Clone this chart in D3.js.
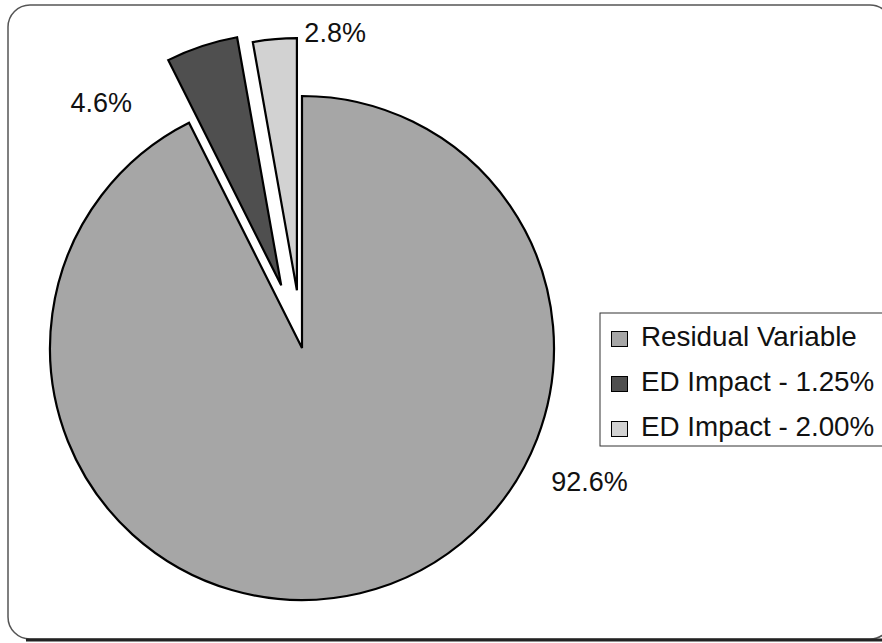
<!DOCTYPE html>
<html>
<head>
<meta charset="utf-8">
<script src="https://cdn.jsdelivr.net/npm/d3@7/dist/d3.min.js"></script>
<style>
  html, body { margin: 0; padding: 0; background: #fff; }
  svg { display: block; }
  text { font-family: "Liberation Sans", Arial, sans-serif; fill: #111; }
</style>
</head>
<body>
<svg id="chart" width="882" height="643"></svg>
<script>
// Share of variance by component
const categories = ["Residual Variable", "ED Impact - 1.25%", "ED Impact - 2.00%"];
const values = [92.6, 4.6, 2.8];
const valueLabels = ["92.6%", "4.6%", "2.8%"];
const fills = ["#a6a6a6", "#4f4f4f", "#d2d2d2"];

const svg = d3.select("#chart");

// Rounded chart frame with a heavier bottom edge
svg.append("rect")
  .attr("x", 8).attr("y", 5)
  .attr("width", 884).attr("height", 634)
  .attr("rx", 22).attr("ry", 22)
  .attr("fill", "#fff")
  .attr("stroke", "#555").attr("stroke-width", 1.5);
svg.append("line")
  .attr("x1", 26).attr("x2", 882)
  .attr("y1", 640).attr("y2", 640)
  .attr("stroke", "#222").attr("stroke-width", 3);

const cx = 302, cy = 348, radius = 252;
const explode = [0, 66, 58];

const pie = d3.pie().value(d => d).sort(null).startAngle(0).endAngle(2 * Math.PI);
const arcs = pie(values);
const arc = d3.arc().innerRadius(0).outerRadius(radius);

const g = svg.append("g").attr("transform", `translate(${cx},${cy})`);

g.selectAll("path.slice")
  .data(arcs)
  .join("path")
  .attr("class", "slice")
  .attr("transform", (d, i) => {
    const mid = (d.startAngle + d.endAngle) / 2;
    return `translate(${Math.sin(mid) * explode[i]},${-Math.cos(mid) * explode[i]})`;
  })
  .attr("d", arc)
  .attr("fill", (d, i) => fills[i])
  .attr("stroke", "#000")
  .attr("stroke-width", 2.2)
  .attr("stroke-linejoin", "miter");

// Percentage labels placed around the pie
const labelRadius = 317;
const labelAngles = [114.9, -39.3, 6.0];
g.selectAll("text.pct")
  .data(arcs)
  .join("text")
  .attr("class", "pct")
  .attr("x", (d, i) => Math.sin(labelAngles[i] * Math.PI / 180) * labelRadius)
  .attr("y", (d, i) => -Math.cos(labelAngles[i] * Math.PI / 180) * labelRadius)
  .attr("dy", "0.36em")
  .attr("text-anchor", "middle")
  .attr("font-size", 27)
  .text((d, i) => valueLabels[i]);

// Legend
const legend = svg.append("g").attr("transform", "translate(600,313)");
legend.append("rect")
  .attr("x", 0).attr("y", 0)
  .attr("width", 300).attr("height", 133)
  .attr("fill", "#fff")
  .attr("stroke", "#333").attr("stroke-width", 1);

const rows = legend.selectAll("g.row")
  .data(categories)
  .join("g")
  .attr("class", "row")
  .attr("transform", (d, i) => `translate(0,${i * 45})`);
rows.append("rect")
  .attr("x", 11.5).attr("y", 18.5)
  .attr("width", 16).attr("height", 15)
  .attr("fill", (d, i) => fills[i])
  .attr("stroke", "#000").attr("stroke-width", 1);
rows.append("text")
  .attr("x", 41).attr("y", 33)
  .attr("font-size", 27.8)
  .text(d => d);
</script>
</body>
</html>
